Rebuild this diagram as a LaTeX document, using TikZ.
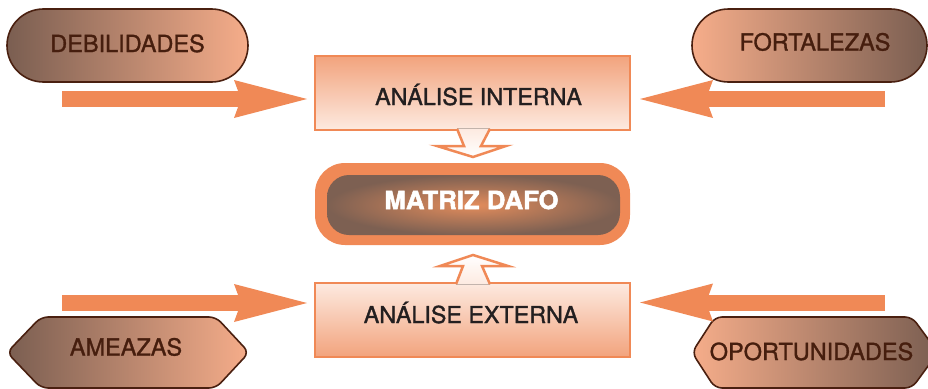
\documentclass[tikz,border=0pt]{standalone}
\usepackage{fontspec}
\setmainfont{TeX Gyre Heros}
\newfontfamily\medfont[FakeBold=1.3]{TeX Gyre Heros}
\newfontfamily\heavyfont[FakeBold=2,FakeStretch=1.03]{TeX Gyre Heros Bold}
\usetikzlibrary{arrows.meta,shapes.misc,calc}
\definecolor{brownD}{RGB}{122,94,81}
\definecolor{salmon}{RGB}{246,173,138}
\definecolor{edgeBrown}{RGB}{74,32,16}
\definecolor{txtBrown}{RGB}{70,30,14}
\definecolor{arrOrange}{RGB}{240,137,86}
\definecolor{boxTop}{RGB}{242,163,125}
\definecolor{boxBot}{RGB}{253,234,224}
\definecolor{glow}{RGB}{226,140,92}
\definecolor{glowEdge}{RGB}{125,96,82}
\definecolor{darkTxt}{RGB}{35,31,32}
\begin{document}
\begin{tikzpicture}[x=1pt,y=-1pt,
  pill/.style={rounded rectangle, draw=edgeBrown, line width=1.6pt, minimum height=73pt, inner sep=0pt, outer sep=0pt},
  hexa/.style={draw=edgeBrown, line width=1.6pt, rounded corners=7pt},
  lbl/.style={font=\medfont\fontsize{23.5}{28}\selectfont, text=txtBrown, anchor=base, inner sep=0pt},
  boxlbl/.style={font=\medfont\fontsize{23.3}{28}\selectfont, text=darkTxt, anchor=base, inner sep=0pt},
  box/.style={rectangle, draw=arrOrange, line width=2.5pt, minimum width=315pt, minimum height=74pt, inner sep=0pt, outer sep=0pt},
  hollow/.style={draw=arrOrange, line width=2.5pt, line join=miter},
  bigarrow/.style={draw=arrOrange, line width=16pt, -{Stealth[length=73pt,width=38pt,inset=7pt,line width=0pt]}}
]
\useasboundingbox (0,0) rectangle (928,388);

% pills
\node[pill, minimum width=241pt, left color=brownD, right color=salmon] (deb) at (127.5,45.5) {};
\node[lbl] (debt) at (127.5,52) {DEBILIDADES};
\node[pill, minimum width=235pt, left color=salmon, right color=brownD] (for) at (809.5,45.5) {};
\node[lbl] (fort) at (815,50.5) {FORTALEZAS};

% hexagons
\path[hexa, left color=brownD, right color=salmon] (41,317) -- (216,317) -- (249,352.5) -- (216,388) -- (41,388) -- (7,352.5) -- cycle;
\node[lbl] (amt) at (126,355.5) {AMEAZAS};
\path[hexa, left color=salmon, right color=brownD] (715,317) -- (912,317) -- (938,352.5) -- (912,388) -- (715,388) -- (692,352.5) -- cycle;
\node[lbl] (opt) at (811.5,360) {OPORTUNIDADES};

% top box
\node[box, top color=boxTop, bottom color=boxBot] (ai) at (472.5,93) {};
\fill[top color=boxBot, bottom color=white] (457,128.5) -- (464,146) -- (437,146) -- (473,157) -- (506,146) -- (481,146) -- (490,128.5) -- cycle;
\draw[hollow] (457,128.8) -- (464,146) -- (437,146) -- (473,157) -- (506,146) -- (481,146) -- (490,128.8);
\node[boxlbl] (ait) at (478.5,105) {ANÁLISE INTERNA};

% matrix
\node[rectangle, rounded corners=30pt, fill=arrOrange, minimum width=315pt, minimum height=82pt, outer sep=0pt] (md) at (472.5,204) {};
\node[rectangle, rounded corners=22pt, inner color=glow, outer color=glowEdge, minimum width=293pt, minimum height=60pt] (mdi) at (473.5,205) {};
\node[font=\heavyfont\fontsize{25}{30}\selectfont, text=white, anchor=base, inner sep=0pt] (mdt) at (471.5,209) {MATRIZ DAFO};

% bottom box
\node[box, top color=boxBot, bottom color=boxTop] (ae) at (472.5,320) {};
\fill[bottom color=boxBot, top color=white] (456,284.5) -- (463,266) -- (440,266) -- (473,255) -- (508,266) -- (482,266) -- (490,284.5) -- cycle;
\draw[hollow] (456,284.2) -- (463,266) -- (440,266) -- (473,255) -- (508,266) -- (482,266) -- (490,284.2);
\node[boxlbl] (aet) at (471,323) {ANÁLISE EXTERNA};

% big arrows
\coordinate (debs) at (62,99);
\coordinate (fors) at (885,99);
\coordinate (ams) at (62,303);
\coordinate (ops) at (885,302.5);
\draw[bigarrow] (debs) -- ($(ai.west |- debs)+(-8,0)$);
\draw[bigarrow] (fors) -- ($(ai.east |- fors)+(10,0)$);
\draw[bigarrow] (ams) -- ($(ae.west |- ams)+(-8,0)$);
\draw[bigarrow] (ops) -- ($(ae.east |- ops)+(10,0)$);
\end{tikzpicture}
\end{document}
